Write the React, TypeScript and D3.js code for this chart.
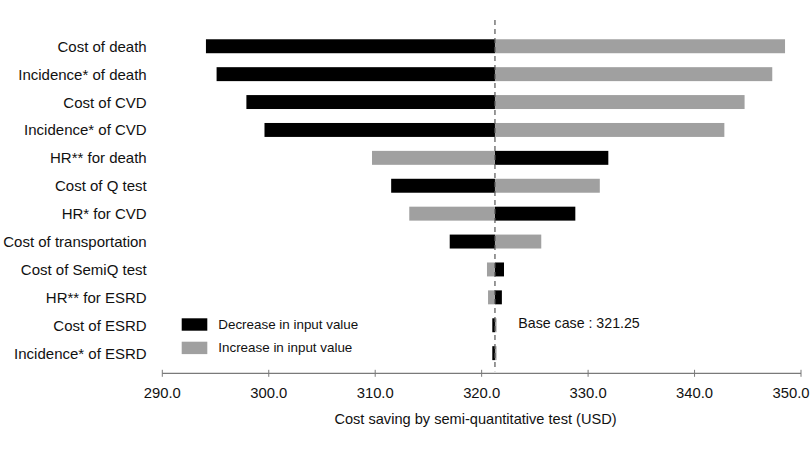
import React from "react";
import * as d3 from "d3";

const categories = [
  "Cost of death",
  "Incidence* of death",
  "Cost of CVD",
  "Incidence* of CVD",
  "HR** for death",
  "Cost of Q test",
  "HR* for CVD",
  "Cost of transportation",
  "Cost of SemiQ test",
  "HR** for ESRD",
  "Cost of ESRD",
  "Incidence* of ESRD",
];
// Result when input value is decreased (black)
const decreaseValues = [294.1, 295.1, 297.9, 299.6, 331.9, 311.5, 328.8, 317.0, 322.1, 321.9, 321.0, 321.0];
// Result when input value is increased (grey)
const increaseValues = [348.5, 347.3, 344.7, 342.8, 309.7, 331.1, 313.2, 325.6, 320.5, 320.6, 321.4, 321.4];
const baseCase = 321.25;
const xTicks = [290, 300, 310, 320, 330, 340, 350];
const legendLabels = ["Decrease in input value", "Increase in input value"];
const axisTitle = "Cost saving by semi-quantitative test (USD)";

const W = 810;
const H = 456;
const FONT = "'Liberation Sans', Arial, sans-serif";
const BLACK = "#000000";
const GREY = "#a0a0a0";

export default function App() {
  const x = d3.scaleLinear().domain([290, 350]).range([162.3, 801]);
  const y = d3
    .scaleBand<string>()
    .domain(categories)
    .range([32.3, 367.1])
    .paddingInner(0.5)
    .paddingOuter(0.25);
  const bw = y.bandwidth();
  const x0 = x(baseCase);
  const axisY = 373.3;

  const bars: React.ReactNode[] = [];
  categories.forEach((c, i) => {
    const yy = y(c)!;
    const series = [
      { v: decreaseValues[i], color: BLACK, k: "d" },
      { v: increaseValues[i], color: GREY, k: "i" },
    ];
    series.forEach((s) => {
      const xv = x(s.v);
      bars.push(
        <rect
          key={c + s.k}
          x={Math.min(xv, x0)}
          y={yy}
          width={Math.abs(xv - x0)}
          height={bw}
          fill={s.color}
        />
      );
    });
  });

  return (
    <svg
      width={W}
      height={H}
      style={{ position: "absolute", left: 0, top: 0, background: "#fff" }}
      fontFamily={FONT}
    >
      <rect x={0} y={0} width={W} height={H} fill="#fff" />
      {bars}
      {categories.map((c) => (
        <text
          key={c}
          x={146.7}
          y={y(c)! + bw / 2}
          textAnchor="end"
          dominantBaseline="central"
          fontSize={15}
          fill="#111"
        >
          {c}
        </text>
      ))}
      {/* base case dashed line */}
      <line
        x1={x0}
        x2={x0}
        y1={20}
        y2={axisY - 2}
        stroke="#555"
        strokeWidth={1.2}
        strokeDasharray="5,4"
      />
      {/* x axis */}
      <line x1={x(290)} x2={x(350)} y1={axisY} y2={axisY} stroke="#7a7a7a" strokeWidth={1.3} />
      {xTicks.map((t, i) => (
        <g key={t}>
          <line x1={x(t)} x2={x(t)} y1={axisY - 3.5} y2={axisY + 3.5} stroke="#7a7a7a" strokeWidth={1} />
          <text
            x={i === xTicks.length - 1 ? Math.min(x(t), 791) : x(t)}
            y={398}
            textAnchor="middle"
            fontSize={14.8}
            fill="#111"
          >
            {d3.format(".1f")(t)}
          </text>
        </g>
      ))}
      <text x={475.5} y={424} textAnchor="middle" fontSize={14.6} fill="#111">
        {axisTitle}
      </text>
      {/* legend */}
      {legendLabels.map((l, i) => (
        <g key={l}>
          <rect x={181.7} y={318.3 + i * 23.4} width={25.6} height={12.4} fill={i === 0 ? BLACK : GREY} />
          <text
            x={218.3}
            y={324.5 + i * 23.4}
            dominantBaseline="central"
            fontSize={13.4}
            fill="#111"
          >
            {l}
          </text>
        </g>
      ))}
      <text x={518.3} y={323.3} dominantBaseline="central" fontSize={14.2} fill="#111">
        {"Base case : " + baseCase.toFixed(2)}
      </text>
    </svg>
  );
}
